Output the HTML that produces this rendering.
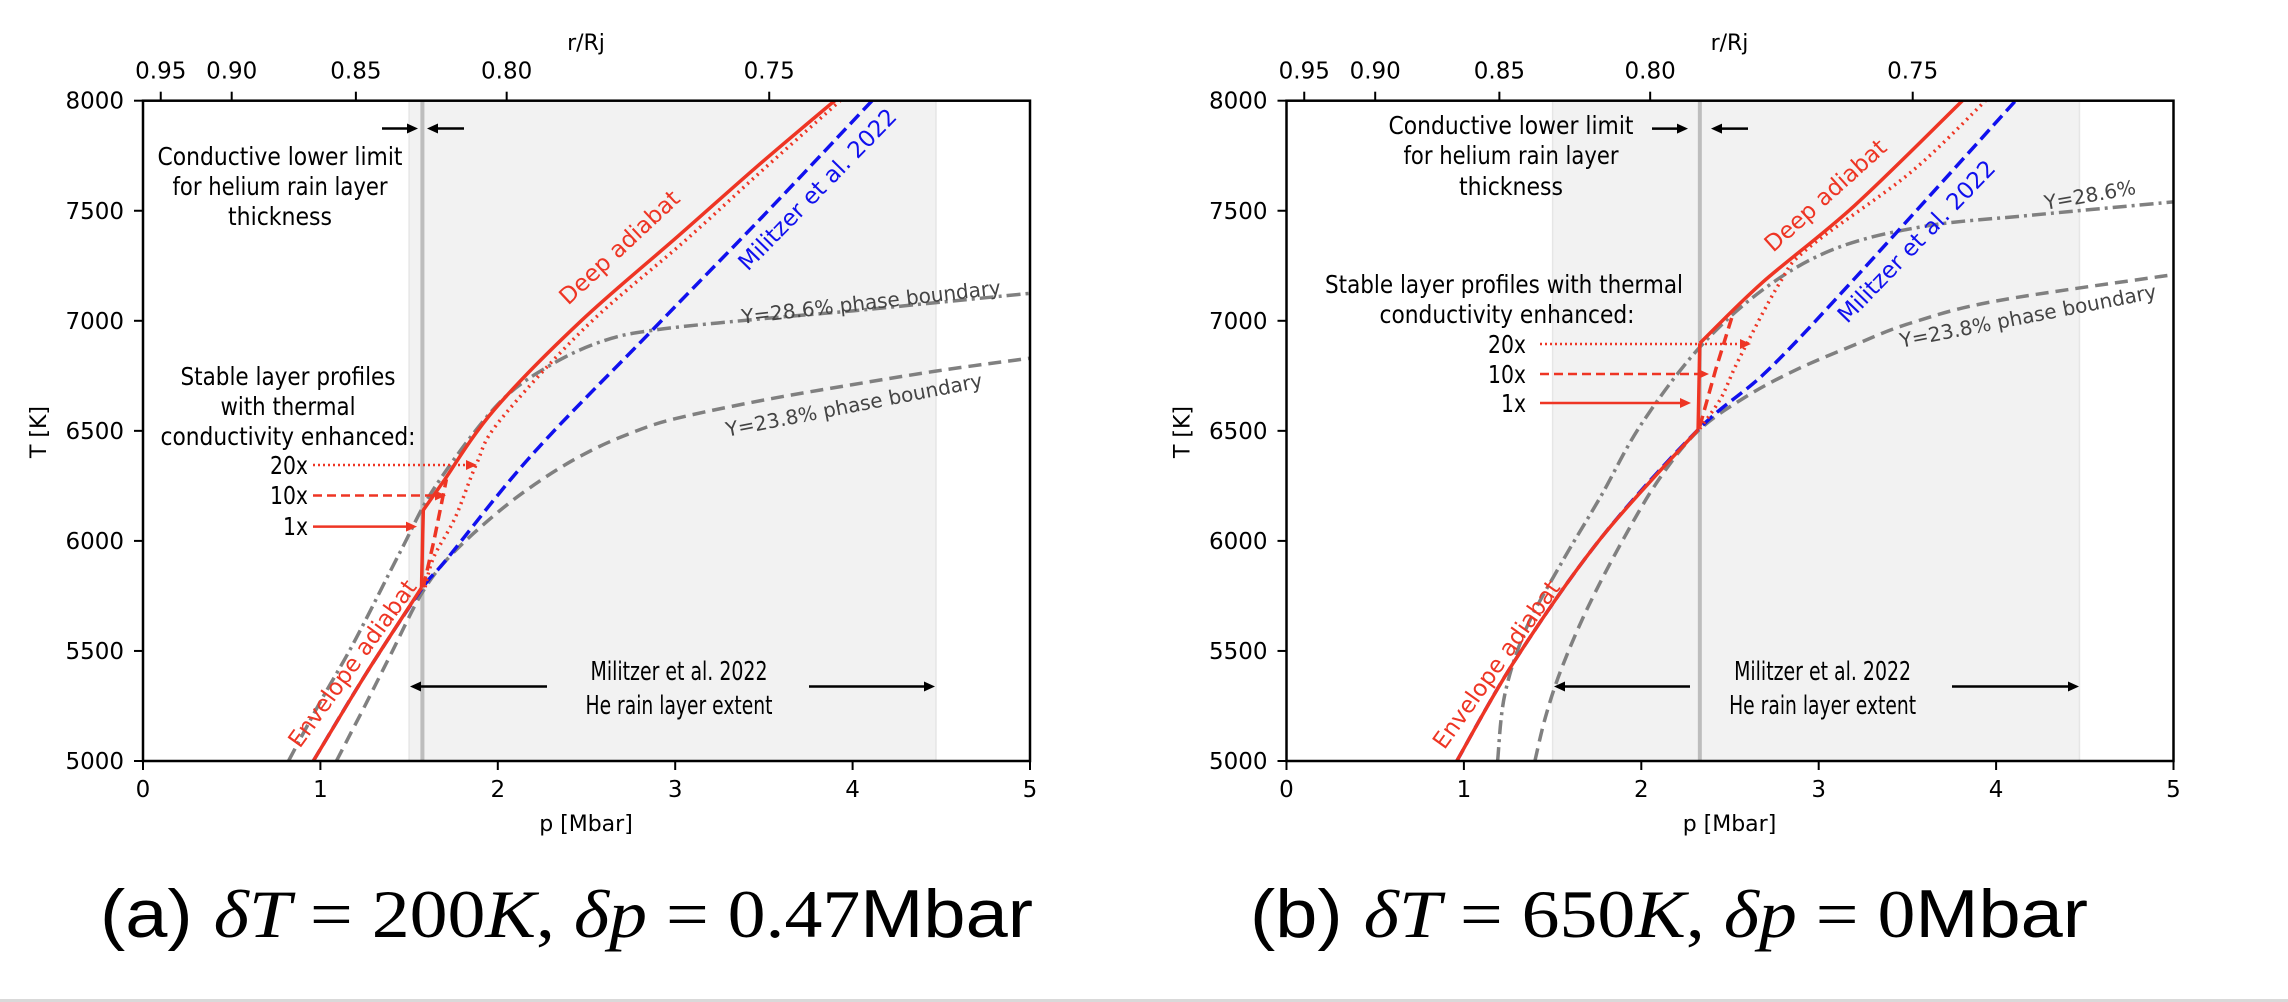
<!DOCTYPE html>
<html><head><meta charset="utf-8"><style>
html,body{margin:0;padding:0;background:#fff;}
svg{display:block;font-family:"DejaVu Sans","Liberation Sans",sans-serif;}
</style></head><body>
<svg id="fig" width="2288" height="1002" viewBox="0 0 2288 1002" xmlns="http://www.w3.org/2000/svg">
<rect x="0" y="0" width="2288" height="1002" fill="#fff"/>
<rect x="0" y="999" width="2288" height="3" fill="#d9d9d9"/>
<g id="panelA"></g>
<g id="panelB"></g>
<text x="100" y="937" font-size="68" textLength="933" lengthAdjust="spacingAndGlyphs" font-family="Liberation Serif, serif"><tspan font-family="Liberation Sans, sans-serif">(a) </tspan><tspan font-style="italic">δT</tspan> = 200<tspan font-style="italic">K</tspan>, <tspan font-style="italic">δp</tspan> = 0.47<tspan font-family="Liberation Sans, sans-serif">Mbar</tspan></text>
<text x="1250" y="937" font-size="68" textLength="838" lengthAdjust="spacingAndGlyphs" font-family="Liberation Serif, serif"><tspan font-family="Liberation Sans, sans-serif">(b) </tspan><tspan font-style="italic">δT</tspan> = 650<tspan font-style="italic">K</tspan>, <tspan font-style="italic">δp</tspan> = 0<tspan font-family="Liberation Sans, sans-serif">Mbar</tspan></text>
</svg>
<script>
// ---- data ----
const xTicks = [0,1,2,3,4,5];
const yTicks = [5000,5500,6000,6500,7000,7500,8000];
const rTickLabels = ["0.95","0.90","0.85","0.80","0.75"];
const rTickP = [0.10,0.50,1.20,2.05,3.53];
const rainExtent = [1.5,4.47];

// panel a
const envA = [[0.96,5000],[1.26,5400],[1.57,5787]];
const oneA = [[1.57,5787],[1.58,6140],[1.70,6278]];
const deepA = [[1.70,6278],[1.98,6596],[2.47,7000],[3.02,7387],[3.46,7700],[3.84,7960],[3.90,8000]];
const tenA = [[1.58,5790],[1.64,6000],[1.71,6280]];
const twentyA = [[1.59,5790],[1.64,5928],[1.76,6106],[1.88,6350],[2.01,6545],[2.5,6975],[3.05,7360],[3.5,7690],[3.93,8000]];
const milA = [[0.96,5000],[1.26,5400],[1.57,5780],[1.71,5915],[2.20,6398],[2.88,6965],[3.5,7480],[4.11,8000]];
const y286A = [[0.82,5000],[1.0,5270],[1.19,5540],[1.45,5950],[1.65,6250],[2.0,6620],[2.3,6800],[2.6,6910],[2.9,6960],[3.5,7010],[4,7045],[4.5,7085],[5,7125]];
const y238A = [[1.09,5000],[1.25,5250],[1.40,5490],[1.57,5760],[1.73,5930],[2.0,6130],[2.25,6280],[2.5,6400],[2.75,6490],[3.0,6555],[3.5,6640],[4,6710],[4.5,6775],[5,6830]];
const condLineA = 1.575;

// panel b
const envB = [[0.96,5000],[1.29,5460],[1.77,6010],[2.32,6505]];
const oneB = [[2.32,6505],[2.33,6898]];
const deepB = [[2.33,6898],[2.68,7172],[3.2,7522],[3.81,8000]];
const tenB = [[2.33,6520],[2.42,6780],[2.52,7040]];
const twentyB = [[2.33,6510],[2.45,6650],[2.55,6825],[2.78,7172],[2.94,7330],[3.52,7675],[3.94,8000]];
const milB = [[0.96,5000],[1.29,5460],[1.77,6010],[2.32,6505],[2.71,6773],[3.2,7190],[4.11,8000]];
const y286B = [[1.19,5000],[1.23,5300],[1.35,5600],[1.55,5900],[1.77,6200],[2.0,6530],[2.33,6880],[2.7,7150],[3.1,7330],[3.6,7430],[4.2,7480],[5,7540]];
const y238B = [[1.40,5000],[1.46,5200],[1.55,5420],[1.70,5700],[1.90,6010],[2.1,6280],[2.32,6500],[2.6,6660],[2.88,6780],[3.2,6890],[3.52,6990],[4,7090],[5,7210]];
const condLineB = 2.33;

const NS = "http://www.w3.org/2000/svg";
const RED = "#ee3524", BLUE = "#1010ee", GRAY = "#808080";
const TOP = 100.7, BOT = 761, PXM = 177.4;
function mk(tag, attrs, parent, txt){
  const e = document.createElementNS(NS, tag);
  for (const k in attrs) e.setAttribute(k, attrs[k]);
  if (txt !== undefined) e.textContent = txt;
  parent.appendChild(e);
  return e;
}
function smooth(P){
  if (P.length < 3) return P.map((q,i)=>(i?'L':'M')+q[0].toFixed(1)+' '+q[1].toFixed(1)).join(' ');
  let s = 'M'+P[0][0].toFixed(1)+' '+P[0][1].toFixed(1);
  for (let i=0;i<P.length-1;i++){
    const p0=P[Math.max(0,i-1)], p1=P[i], p2=P[i+1], p3=P[Math.min(P.length-1,i+2)];
    const c1=[p1[0]+(p2[0]-p0[0])/6, p1[1]+(p2[1]-p0[1])/6];
    const c2=[p2[0]-(p3[0]-p1[0])/6, p2[1]-(p3[1]-p1[1])/6];
    s+=' C'+c1[0].toFixed(1)+' '+c1[1].toFixed(1)+' '+c2[0].toFixed(1)+' '+c2[1].toFixed(1)+' '+p2[0].toFixed(1)+' '+p2[1].toFixed(1);
  }
  return s;
}
function drawPanel(g, x0, d){
  const X = p => x0 + p*PXM;
  const Y = t => BOT - (t-5000)*(BOT-TOP)/3000;
  const x1 = X(5);
  let e = mk('rect',{x:X(rainExtent[0]),y:TOP,width:X(rainExtent[1])-X(rainExtent[0]),height:BOT-TOP,fill:'#f2f2f2',stroke:'#e6e6e6','stroke-width':1.5},g);
   
  e = mk('line',{x1:X(d.cond),x2:X(d.cond),y1:TOP,y2:BOT,stroke:'#bdbdbd','stroke-width':4},g);
   
  const path = (pts, sm) => {
    const P = pts.map(q=>[X(q[0]),Y(q[1])]);
    if (sm) return smooth(P);
    return P.map((q,i)=>(i?'L':'M')+q[0].toFixed(1)+' '+q[1].toFixed(1)).join(' ');
  };
  const clipId = 'clip'+Math.round(x0);
  const cp = mk('clipPath',{id:clipId},g); mk('rect',{x:x0,y:TOP,width:x1-x0,height:BOT-TOP},cp);
  const cg = mk('g',{'clip-path':'url(#'+clipId+')'},g);
   
  const series = [
    [d.y238, GRAY, 3.5, '13 7', 'y238-phase-boundary', true],
    [d.y286, GRAY, 3.5, '14 5 3 5', 'y286-phase-boundary', true],
    [d.mil, BLUE, 3.5, '13 6', 'militzer-2022-profile', true],
    [d.twenty, RED, 3.5, '2 4.5', 'profile-20x', true],
    [d.ten, RED, 3.5, '11 6', 'profile-10x', false],
    [d.deep, RED, 3.5, '', 'deep-adiabat', true],
    [d.env, RED, 3.5, '', 'envelope-adiabat', true],
    [d.one, RED, 3.5, '', 'profile-1x', false]
  ];
  for (const s of series){
    const a = {d:path(s[0], s[5]),fill:'none',stroke:s[1],'stroke-width':s[2],'stroke-linejoin':'round'};
    if (s[3]) a['stroke-dasharray']=s[3];
    e = mk('path',a,cg);
    
    
  }
  e = mk('rect',{x:x0,y:TOP,width:x1-x0,height:BOT-TOP,fill:'none',stroke:'#000','stroke-width':2.5},g);
   
  for (const t of xTicks){
    mk('line',{x1:X(t),x2:X(t),y1:BOT,y2:BOT+9,stroke:'#000','stroke-width':2},g);
    e = mk('text',{x:X(t),y:BOT+36,'font-size':23,'text-anchor':'middle'},g,String(t));
     
  }
  for (const t of yTicks){
    mk('line',{x1:x0-9,x2:x0,y1:Y(t),y2:Y(t),stroke:'#000','stroke-width':2},g);
    e = mk('text',{x:x0-19,y:Y(t)+8,'font-size':23,'text-anchor':'end'},g,String(t));
     
  }
  rTickP.forEach((p,i)=>{
    mk('line',{x1:X(p),x2:X(p),y1:TOP-9,y2:TOP,stroke:'#000','stroke-width':2},g);
    e = mk('text',{x:X(p),y:TOP-22,'font-size':23,'text-anchor':'middle'},g,rTickLabels[i]);
     
  });
  e = mk('text',{x:x0+443,y:50,'font-size':22,'text-anchor':'middle'},g,'r/Rj');
   
  e = mk('text',{x:x0+443,y:831,'font-size':22,'text-anchor':'middle'},g,'p [Mbar]');
   
  e = mk('text',{x:0,y:0,'font-size':22,'text-anchor':'middle',transform:'translate('+(x0-97)+',432) rotate(-90)'},g,'T [K]');
   
  const txt = (x,y,s,size,fill,name,anchor,len,rot) => {
    const a = {x:x,y:y,'font-size':size,fill:fill,'text-anchor':anchor||'middle'};
    if (len){a.textLength=len;a.lengthAdjust='spacingAndGlyphs';}
    if (rot!==undefined){a.x=0;a.y=0;a.transform='translate('+x+','+y+') rotate('+rot+')';a['dominant-baseline']='central';}
    const t = mk('text',a,g,s);
     
    return t;
  };
  for (const l of d.labels) txt(l[0]+x0,l[1],l[2],l[3],l[4],l[5],l[6],l[7],l[8]);
  const arrow = (xa,xb,y,dash,color,name)=>{
    const dir = xb>xa?1:-1;
    const a = {x1:xa,x2:xb-dir*6,y1:y,y2:y,stroke:color,'stroke-width':2.5};
    if (dash) a['stroke-dasharray']=dash;
    const gg = mk('g',{},g);
     
    mk('line',a,gg);
    mk('path',{d:'M'+xb+' '+y+' L'+(xb-dir*11)+' '+(y-5)+' L'+(xb-dir*11)+' '+(y+5)+' Z',fill:color},gg);
  };
  for (const a of d.arrows) arrow(a[0]+x0,a[1]+x0,a[2],a[3],a[4],a[5]);
}
const labelsA = [
  [137,165,'Conductive lower limit',25,'#000','cond-label-1','middle',245],
  [137,195,'for helium rain layer',25,'#000','cond-label-2','middle',215],
  [137,225,'thickness',25,'#000','cond-label-3','middle',104],
  [145,385,'Stable layer profiles',25,'#000','stable-label-1','middle',215],
  [145,415,'with thermal',25,'#000','stable-label-2','middle',135],
  [145,445,'conductivity enhanced:',25,'#000','stable-label-3','middle',255],
  [165,474,'20x',25,'#000','label-20x','end',38],
  [165,504,'10x',25,'#000','label-10x','end',38],
  [165,535,'1x',25,'#000','label-1x','end',25],
  [536,680,'Militzer et al. 2022',26,'#000','rain-extent-label-1','middle',177],
  [536,714,'He rain layer extent',26,'#000','rain-extent-label-2','middle',187],
  [477,248,'Deep adiabat',23,RED,'deep-adiabat-label','middle',null,-43],
  [675,190,'Militzer et al. 2022',23,BLUE,'militzer-label','middle',null,-45.7],
  [728,302,'Y=28.6% phase boundary',20,'#444','y286-label','middle',null,-6.5],
  [711,405,'Y=23.8% phase boundary',20,'#444','y238-label','middle',null,-11],
  [210,664,'Envelope adiabat',23,RED,'envelope-adiabat-label','middle',null,-54]
];
const arrowsA = [
  [239,275,128.5,'', '#000','cond-arrow-right'],
  [321,284,128.5,'', '#000','cond-arrow-left'],
  [170,334,465,'2 3',RED,'arrow-20x'],
  [170,303,495.5,'9 5',RED,'arrow-10x'],
  [170,274,526.6,'',RED,'arrow-1x'],
  [404,267,686.5,'','#000','rain-arrow-left'],
  [666,792,686.5,'','#000','rain-arrow-right']
];
const ox = 1286.5;
const labelsB = [
  [1511-ox,134,'Conductive lower limit',25,'#000','cond-label-1','middle',245],
  [1511-ox,164,'for helium rain layer',25,'#000','cond-label-2','middle',215],
  [1511-ox,195,'thickness',25,'#000','cond-label-3','middle',104],
  [1504-ox,293,'Stable layer profiles with thermal',25,'#000','stable-label-1','middle',358],
  [1507-ox,323,'conductivity enhanced:',25,'#000','stable-label-2','middle',255],
  [1526-ox,353,'20x',25,'#000','label-20x','end',38],
  [1526-ox,383,'10x',25,'#000','label-10x','end',38],
  [1526-ox,412,'1x',25,'#000','label-1x','end',25],
  [1822.6-ox,680,'Militzer et al. 2022',26,'#000','rain-extent-label-1','middle',177],
  [1822.6-ox,714,'He rain layer extent',26,'#000','rain-extent-label-2','middle',187],
  [1826-ox,196,'Deep adiabat',23,RED,'deep-adiabat-label','middle',null,-42],
  [1917-ox,242,'Militzer et al. 2022',23,BLUE,'militzer-label','middle',null,-46],
  [2090-ox,195,'Y=28.6%',20,'#444','y286-label','middle',null,-10],
  [2028-ox,316,'Y=23.8% phase boundary',20,'#444','y238-label','middle',null,-11],
  [1497-ox,665,'Envelope adiabat',23,RED,'envelope-adiabat-label','middle',null,-54.4]
];
const arrowsB = [
  [1652-ox,1688-ox,128.6,'','#000','cond-arrow-right'],
  [1748-ox,1711-ox,128.6,'','#000','cond-arrow-left'],
  [1540-ox,1751-ox,344,'2 3',RED,'arrow-20x'],
  [1540-ox,1709-ox,374,'9 5',RED,'arrow-10x'],
  [1540-ox,1691-ox,403,'',RED,'arrow-1x'],
  [1690-ox,1554-ox,686.5,'','#000','rain-arrow-left'],
  [1952-ox,2079-ox,686.5,'','#000','rain-arrow-right']
];
drawPanel(document.getElementById('panelA'),143,{cond:condLineA,env:envA,one:oneA,deep:deepA,ten:tenA,twenty:twentyA,mil:milA,y286:y286A,y238:y238A,labels:labelsA,arrows:arrowsA});
drawPanel(document.getElementById('panelB'),ox,{cond:condLineB,env:envB,one:oneB,deep:deepB,ten:tenB,twenty:twentyB,mil:milB,y286:y286B,y238:y238B,labels:labelsB,arrows:arrowsB});
</script>
</body></html>
